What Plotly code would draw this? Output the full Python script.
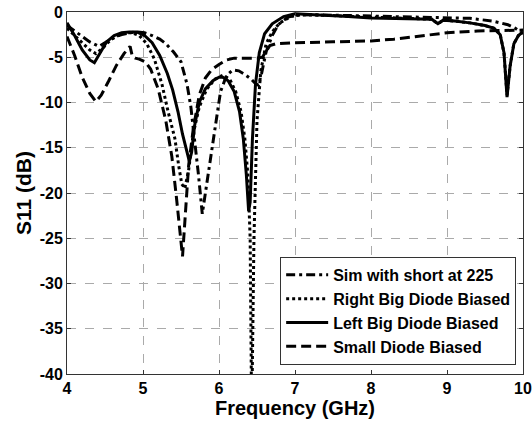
import plotly.graph_objects as go

# ---------------- data ----------------
sim_f = [4.0, 4.1, 4.2, 4.3, 4.42, 4.52, 4.62, 4.72, 4.82, 4.92, 5.02, 5.12, 5.22, 5.3, 5.4, 5.5, 5.58,
         5.63, 5.68, 5.73, 5.78, 5.83, 5.88, 5.95, 6.02, 6.1, 6.18, 6.26, 6.34, 6.42, 6.48, 6.52, 6.56,
         6.62, 6.7, 6.78, 6.9, 7.0, 7.2, 7.5, 8.0, 8.5, 9.0, 9.3, 9.6, 9.8, 9.9, 10.0]
sim_db = [-1.5, -2.1, -2.7, -3.3, -3.8, -3.3, -2.8, -2.5, -2.3, -2.2, -2.3, -2.6, -3.0, -3.5, -4.4, -5.5, -8.0,
          -10.5, -14.0, -18.0, -22.3, -19.5, -16.3, -12.3, -8.8, -7.0, -6.4, -6.5, -6.9, -7.4, -7.9, -8.1, -6.8,
          -4.4, -2.6, -1.4, -0.6, -0.35, -0.3, -0.35, -0.45, -0.55, -0.65, -0.7, -1.0, -1.4, -1.8, -2.4]

right_f = [4.0, 4.1, 4.2, 4.3, 4.38, 4.47, 4.57, 4.67, 4.77, 4.86, 4.95, 5.05, 5.15, 5.25, 5.33, 5.42, 5.47,
           5.51, 5.55, 5.6, 5.66, 5.74, 5.84, 5.95, 6.05, 6.14, 6.22, 6.29, 6.34, 6.38, 6.41, 6.43, 6.46,
           6.5, 6.55, 6.62, 6.7, 6.8, 6.95, 7.1, 7.5, 8.0, 8.5, 8.8, 8.88, 8.95, 9.1, 9.3, 9.5, 9.62, 9.7,
           9.75, 9.79, 9.83, 9.88, 9.94, 10.0]
right_db = [-1.8, -2.6, -3.4, -4.2, -4.6, -4.0, -3.1, -2.6, -2.3, -2.3, -2.6, -3.5, -5.2, -8.0, -11.0, -14.0, -17.0,
            -19.0, -19.5, -17.5, -13.5, -10.5, -8.5, -7.4, -7.0, -7.4, -8.8, -11.0, -14.0, -18.0, -25.0, -45.0, -25.0,
            -12.0, -6.5, -3.5, -2.2, -1.2, -0.5, -0.3, -0.4, -0.55, -0.7, -0.8, -1.3, -0.9, -1.0, -1.2, -1.5, -1.8, -2.5,
            -4.5, -9.2, -6.0, -3.5, -2.6, -2.2]

left_f = [4.0, 4.1, 4.2, 4.3, 4.36, 4.43, 4.52, 4.62, 4.72, 4.82, 4.92, 5.02, 5.12, 5.22, 5.32, 5.39, 5.46,
          5.52, 5.57, 5.61, 5.64, 5.68, 5.74, 5.82, 5.92, 6.0, 6.05, 6.12, 6.2, 6.27, 6.32, 6.36, 6.39, 6.41,
          6.44, 6.48, 6.53, 6.6, 6.7, 6.85, 7.0, 7.3, 7.7, 8.0, 8.5, 8.8, 8.88, 8.95, 9.1, 9.3, 9.5, 9.62,
          9.7, 9.75, 9.79, 9.83, 9.88, 9.94, 10.0]
left_db = [-1.2, -2.6, -4.2, -5.3, -5.6, -4.6, -3.3, -2.6, -2.3, -2.2, -2.2, -2.6, -3.4, -4.8, -6.8, -8.6, -11.0,
           -13.5, -15.3, -16.5, -15.5, -12.5, -10.0, -8.5, -7.6, -7.2, -7.2, -7.6, -8.8, -11.0, -14.0, -18.0, -22.0, -21.0,
           -14.0, -8.0, -4.5, -2.4, -1.3, -0.5, -0.2, -0.3, -0.5, -0.65, -0.75, -0.8, -1.3, -0.9, -1.0, -1.2, -1.5, -1.8,
           -2.5, -4.5, -9.4, -6.0, -3.5, -2.6, -2.2]

small_f = [4.0, 4.1, 4.2, 4.3, 4.38, 4.45, 4.55, 4.65, 4.75, 4.83, 4.86, 4.9, 4.95, 5.03, 5.1, 5.2, 5.3, 5.38,
           5.44, 5.49, 5.52, 5.56, 5.6, 5.66, 5.74, 5.82, 5.9, 6.0, 6.1, 6.2, 6.35, 6.5, 6.57, 6.62, 6.67,
           6.75, 7.0, 7.5, 8.0, 8.3, 8.6, 9.0, 9.4, 9.8, 10.0]
small_db = [-2.7, -4.8, -7.2, -9.0, -9.9, -9.2, -7.6, -5.9, -4.6, -3.8, -4.9, -5.1, -5.2, -5.5, -6.3, -8.5, -12.0, -16.0,
            -20.5, -24.5, -27.0, -22.0, -17.0, -13.0, -9.2, -7.3, -6.4, -5.8, -5.3, -5.1, -5.1, -5.1, -5.0, -4.4, -3.7,
            -3.5, -3.4, -3.3, -3.2, -3.0, -2.7, -2.3, -2.1, -2.0, -2.0]

x_ticks = [4, 5, 6, 7, 8, 9, 10]
y_ticks = [0, -5, -10, -15, -20, -25, -30, -35, -40]

FONT = "Liberation Sans, Arial, sans-serif"

fig = go.Figure()
series = [
    ("Sim with short at 225", sim_f, sim_db, "9px,4px,3px,4px"),
    ("Right Big Diode Biased", right_f, right_db, "3px,3px"),
    ("Left Big Diode Biased", left_f, left_db, "solid"),
    ("Small Diode Biased", small_f, small_db, "10px,5px"),
]
for name, f, d, dash in series:
    fig.add_trace(go.Scatter(x=f, y=d, mode="lines", name=name,
                             line=dict(color="black", width=3, dash=dash)))

axis_common = dict(
    showline=True, linecolor="#333333", linewidth=1, mirror="ticks",
    showgrid=True, gridcolor="#aaaaaa", gridwidth=1, griddash="dash",
    ticks="inside", ticklen=4, tickcolor="#333333", zeroline=False,
    automargin=False, ticklabeloverflow="allow",
    tickfont=dict(family=FONT, size=16, color="black", weight="bold"),
)

fig.update_layout(
    width=532, height=424,
    margin=dict(l=67, r=9, t=12, b=50),
    paper_bgcolor="white", plot_bgcolor="white",
    showlegend=True,
    legend=dict(x=0.985, y=0.025, xanchor="right", yanchor="bottom",
                bgcolor="white", bordercolor="#333333", borderwidth=1,
                font=dict(family=FONT, size=16, color="black", weight="bold"),
                tracegroupgap=0, itemwidth=42),
    xaxis=dict(range=[4, 10], tickvals=x_ticks, ticktext=[str(v) for v in x_ticks],
               title=dict(text="Frequency (GHz)", standoff=2,
                          font=dict(family=FONT, size=20, color="black", weight="bold")),
               **axis_common),
    yaxis=dict(range=[-40, 0], tickvals=y_ticks, ticktext=[str(v) for v in y_ticks],
               title=dict(text="S11 (dB)", standoff=2,
                          font=dict(family=FONT, size=21, color="black", weight="bold")),
               **axis_common),
)

# remove the browser's default body margin so the figure sits at the page origin
fig.write_html("out.html", config={"displayModeBar": False},
               post_script="document.body.style.margin='0px';")
